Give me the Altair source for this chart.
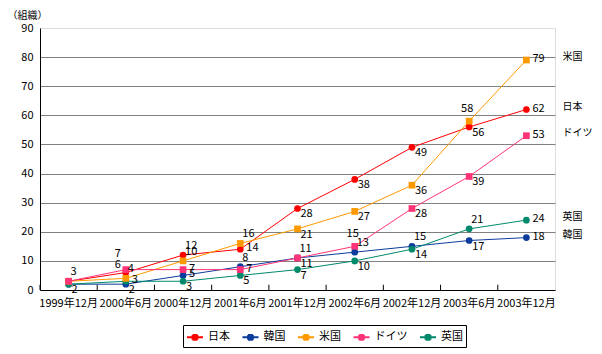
import altair as alt
import pandas as pd

periods = ["1999年12月", "2000年6月", "2000年12月", "2001年6月", "2001年12月",
           "2002年6月", "2002年12月", "2003年6月", "2003年12月"]
series = ["日本", "韓国", "米国", "ドイツ", "英国"]
colors = ["#FF0000", "#0B3C9B", "#FF9900", "#FF3377", "#00896B"]
shapes = ["circle", "circle", "square", "square", "circle"]

japan = [3, 6, 12, 14, 28, 38, 49, 56, 62]
korea = [2, 2, 5, 8, 11, 13, 15, 17, 18]
usa = [3, 4, 10, 16, 21, 27, 36, 58, 79]
germany = [3, 7, 7, 7, 11, 15, 28, 39, 53]
uk = [2, 3, 3, 5, 7, 10, 14, 21, 24]

# label placement codes per point ("n" = no label)
japan_pos = ["ur", "ul", "ur", "r", "dr", "dr", "dr", "dr", "r"]
korea_pos = ["dr", "dr", "r", "ur", "ur", "ur", "ur", "dr", "r"]
usa_pos = ["n", "ur", "ur", "ur", "dr", "dr", "dr", "u", "r"]
germany_pos = ["n", "uul", "r", "r", "dr", "u", "dr", "dr", "r"]
uk_pos = ["n", "r", "dr", "dr", "dr", "dr", "dr", "ur", "r"]

placements = {
    "ur": ("left", 2, -9),
    "r": ("left", 6, -1),
    "dr": ("left", 3, 6),
    "u": ("center", -2, -12),
    "ul": ("center", -8, -8),
    "uul": ("center", -8, -16),
}

values = [japan, korea, usa, germany, uk]
positions = [japan_pos, korea_pos, usa_pos, germany_pos, uk_pos]
rows = []
for s, shp, vals, poss in zip(series, shapes, values, positions):
    for p, v, c in zip(periods, vals, poss):
        rows.append({"series": s, "shape": shp, "period": p, "value": v, "code": c})
df = pd.DataFrame(rows)
df_end = df[df["period"] == periods[-1]]

FONT = "Noto Sans CJK JP"

color_scale = alt.Scale(domain=series, range=colors)

x_axis = alt.Axis(title=None, ticks=False, labelAngle=0, labelPadding=7,
                  bandPosition=0.5,
                  domainColor="black", labelFont=FONT, labelFontSize=11,
                  labelColor="black", labelOverlap=False, grid=False)
y_axis = alt.Axis(values=list(range(0, 91, 10)), ticks=False,
                  domainColor="black", labelPadding=7, labelFont=FONT,
                  labelFontSize=11, labelColor="black", labelOverlap=False,
                  gridColor="#808080",
                  gridOpacity={"condition": {"test": "datum.value >= 90", "value": 0}, "value": 1},
                  title="（組織）", titleAngle=0, titleX=-33, titleY=-13,
                  titleAlign="left", titleBaseline="middle",
                  titleFont=FONT, titleFontSize=10, titleFontWeight="normal",
                  titleColor="black")
x_scale = alt.Scale(type="band", domain=periods, paddingInner=0, paddingOuter=0)
y_scale = alt.Scale(domain=[0, 90], nice=False, zero=True)

x_enc = alt.X("period:N", sort=periods, scale=x_scale, axis=x_axis)
y_enc = alt.Y("value:Q", scale=y_scale, axis=y_axis)

legend_path = ("M-1,0H1M-0.3,-0.3H0.3M-0.3,-0.15H0.3M-0.3,0.15H0.3M-0.3,0.3H0.3"
               "M-0.3,-0.3V0.3M0.3,-0.3V0.3")

base = alt.Chart(df)

lines = base.mark_line(strokeWidth=1).encode(
    x=x_enc, y=y_enc,
    color=alt.Color("series:N", scale=color_scale,
                    legend=alt.Legend(title=None, orient="none", legendX=143, legendY=297,
                                      direction="horizontal", columns=5,
                                      symbolType=legend_path, symbolSize=256,
                                      symbolStrokeWidth=2, labelFont=FONT,
                                      labelFontSize=11, labelColor="black",
                                      labelOffset=4, columnPadding=8.5,
                                      strokeColor="black", padding=3,
                                      labelLimit=100)),
)

point_layers = []
for shp in ["circle", "square"]:
    point_layers.append(
        base.transform_filter(alt.datum.shape == shp)
        .mark_point(filled=True, size=45, opacity=1, shape=shp)
        .encode(x=x_enc, y=y_enc,
                color=alt.Color("series:N", scale=color_scale, legend=None))
    )

text_layers = []
for code, (align, dx, dy) in placements.items():
    text_layers.append(
        base.transform_filter(alt.datum.code == code)
        .mark_text(align=align, baseline="middle", dx=dx, dy=dy, font=FONT,
                   fontSize=11, color="black")
        .encode(x=x_enc, y=y_enc, text="value:Q")
    )

end_labels = alt.Chart(df_end).mark_text(
    align="left", baseline="middle", dx=36, dy=-3, font=FONT, fontSize=10, color="black"
).encode(x=x_enc, y=y_enc, text="series:N")

ticks = alt.Chart(pd.DataFrame({"period": periods})).mark_rule(
    color="black", strokeWidth=1
).encode(
    x=alt.X("period:N", sort=periods, bandPosition=0, scale=x_scale, axis=x_axis),
    y=alt.Y(datum=0, scale=y_scale, axis=y_axis),
    y2=alt.Y2(datum=1.8),
)

chart = alt.layer(lines, *point_layers, *text_layers, end_labels, ticks).resolve_legend(
    color="independent"
).properties(
    width=515, height=262,
    autosize=alt.AutoSizeParams(type="none"),
    padding={"left": 40, "top": 28, "right": 47, "bottom": 64},
).configure_view(stroke="black", strokeWidth=1).configure(background="white")

chart.save("out.html", embed_options={"renderer": "svg", "actions": False})
